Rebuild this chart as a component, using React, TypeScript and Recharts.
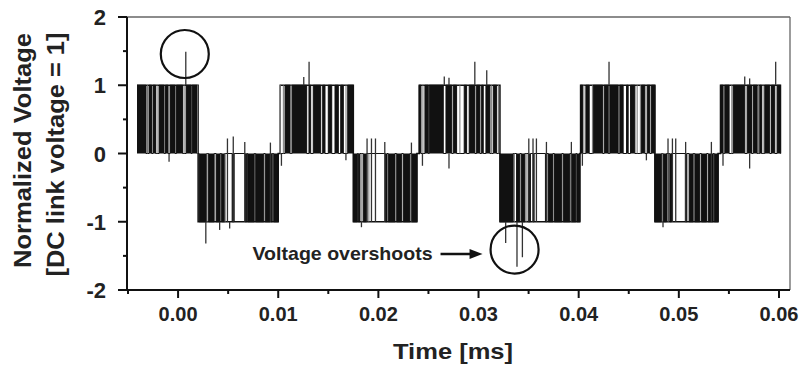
import React from "react";
import {
  ComposedChart,
  Area,
  Line,
  XAxis,
  YAxis,
  ReferenceLine,
  ReferenceDot,
} from "recharts";

// half-cycle blocks: [start, end, level]
const blocks: [number, number, number][] = [
  [-0.0041, 0.002, 1],
  [0.002, 0.01, -1],
  [0.0102, 0.0175, 1],
  [0.0175, 0.02385, -1],
  [0.02408, 0.03214, 1],
  [0.03214, 0.04012, -1],
  [0.04019, 0.04761, 1],
  [0.04761, 0.05392, -1],
  [0.05416, 0.06015, 1],
];

// dense switching regions (drawn black), [start, end]
const p1Bars = [
  [-0.0041, -0.0032], [-0.0029, -0.00265], [-0.0025, -0.00225], [-0.0019, -0.0014],
  [-0.00125, -0.001], [-0.0008, -0.0003], [-0.00015, 0.00045], [0.0008, 0.0013], [0.0014, 0.0019],
];
const n1Bars = [
  [0.0021, 0.00285], [0.00305, 0.0036], [0.0038, 0.0042], [0.00435, 0.00465], [0.0054, 0.0056],
  [0.0067, 0.00685], [0.00695, 0.0076], [0.00775, 0.00855], [0.0087, 0.0092], [0.0093, 0.0094], [0.00955, 0.01],
];
const p2Bars = [
  [0.01068, 0.01118], [0.01138, 0.01284], [0.01307, 0.01324], [0.0135, 0.01424], [0.01444, 0.01467],
  [0.015, 0.01534], [0.01567, 0.016], [0.01624, 0.0165], [0.01694, 0.0175],
];
const n2Bars = [
  [0.0175, 0.0179], [0.018, 0.01816], [0.01849, 0.01883], [0.0207, 0.02086], [0.02099, 0.02166],
  [0.02183, 0.02233], [0.02249, 0.02315], [0.02332, 0.02385],
];
const p3Bars = [
  [0.02408, 0.02425], [0.02465, 0.02498], [0.02508, 0.02648], [0.02675, 0.02732], [0.02748, 0.02781],
  [0.02857, 0.02881], [0.02907, 0.02964], [0.02981, 0.03014], [0.03031, 0.03047], [0.03074, 0.03114], [0.03147, 0.03181],
];
const n3Bars = [
  [0.03214, 0.03346], [0.0338, 0.03413], [0.03428, 0.03463], [0.03496, 0.03518], [0.03545, 0.03555],
  [0.03668, 0.03683], [0.03698, 0.03743], [0.03758, 0.03832], [0.03847, 0.03912], [0.03927, 0.03972], [0.03982, 0.04012],
];
const p4Bars = [
  [0.04019, 0.04039], [0.04072, 0.04105], [0.04145, 0.04239], [0.04255, 0.04295], [0.04311, 0.04394],
  [0.04411, 0.04444], [0.04478, 0.04494], [0.04518, 0.04561], [0.04628, 0.04661], [0.04684, 0.04711], [0.04728, 0.04761],
];
const n4Bars = [
  [0.04761, 0.04827], [0.04843, 0.04877], [0.0491, 0.04927], [0.05065, 0.0508], [0.05103, 0.05143],
  [0.0516, 0.0521], [0.05227, 0.05277], [0.05293, 0.05343], [0.05354, 0.05392],
];
const p5Bars = [
  [0.05416, 0.05442], [0.05459, 0.05502], [0.05542, 0.05659], [0.05682, 0.05726], [0.05742, 0.05782],
  [0.05808, 0.05825], [0.05858, 0.05908], [0.05925, 0.05958], [0.05981, 0.06015],
];

// single narrow pulses (thin gray lines)
const posThin = [
  -0.00305, -0.0021, 0.0006, 0.00195, 0.01023, 0.01051, 0.01128, 0.01677, 0.02445, 0.02814,
  0.03128, 0.03199, 0.04052, 0.04137, 0.04584, 0.04616, 0.05529, 0.05795, 0.05841,
];
const negThin = [0.0029, 0.0047, 0.01835, 0.01905, 0.03358, 0.03475, 0.04835, 0.04895];

// ringing spikes: [time, from, to]
const spikes: [number, number, number][] = [
  [0.00077, 1, 1.49], [0.01308, 1, 1.345], [0.01255, 1, 1.12], [0.02963, 1, 1.345],
  [0.03082, 1, 1.22], [0.02658, 1, 1.13], [0.02705, 1, 1.11], [0.04303, 1, 1.345],
  [0.05967, 1, 1.345], [0.05658, 1, 1.13], [0.05707, 1, 1.1],
  [-0.0009, 0, -0.12], [0.01032, 0, -0.18], [0.01676, 0, -0.1], [0.0244, 0, -0.18],
  [0.02705, 0, -0.22], [0.04037, 0, -0.18], [0.04676, 0, -0.1], [0.05441, 0, -0.18], [0.05707, 0, -0.22],
  [0.00493, -1, 0.22], [0.00551, -1, 0.25], [0.00666, -1, 0.17], [0.00922, -1, 0.16],
  [0.01887, -1, 0.22], [0.01931, -1, 0.22], [0.01971, -1, 0.22], [0.02064, -1, 0.17], [0.0233, -1, 0.16],
  [0.03502, -1, 0.22], [0.03544, -1, 0.22], [0.03578, -1, 0.22], [0.03678, -1, 0.17], [0.03927, -1, 0.17],
  [0.04892, -1, 0.22], [0.04936, -1, 0.22], [0.04969, -1, 0.22], [0.05068, -1, 0.17], [0.05325, -1, 0.17],
  [0.00277, -1, -1.32], [0.00415, -1, -1.12], [0.00515, -1, -1.1], [0.01831, -1, -1.08],
  [0.03271, -1, -1.31], [0.03384, -1, -1.66], [0.03438, -1, -1.52], [0.04842, -1, -1.08],
];

// annotation circles and arrow tip
const circles = [
  { t: 0.00067, v: 1.458 },
  { t: 0.0336, v: -1.407 },
];
const arrowTip = { t: 0.0304, v: -1.472 };
const arrowText = "Voltage overshoots";

const xMajorTicks = [0, 0.01, 0.02, 0.03, 0.04, 0.05, 0.06];
const xMinorTicks = [-0.005, 0.005, 0.015, 0.025, 0.035, 0.045, 0.055];
const yMajorTicks = [-2, -1, 0, 1, 2];
const yMinorTicks = [-1.5, -0.5, 0.5, 1.5];

const FONT = "'Liberation Sans', Arial, Helvetica, sans-serif";
const INK = "#111";

function toSteps(list: number[][], level: number) {
  return list.map((b) => [b[0], b[1], level]);
}

const allBars = [
  ...toSteps(p1Bars, 1), ...toSteps(n1Bars, -1), ...toSteps(p2Bars, 1),
  ...toSteps(n2Bars, -1), ...toSteps(p3Bars, 1), ...toSteps(n3Bars, -1),
  ...toSteps(p4Bars, 1), ...toSteps(n4Bars, -1), ...toSteps(p5Bars, 1),
].sort((a, b) => a[0] - b[0]);

const pwmData: { t: number; v: number }[] = [];
allBars.forEach(([a, b, lvl]) => {
  pwmData.push({ t: a, v: lvl });
  pwmData.push({ t: b, v: 0 });
});

const envelopeData: { t: number; v: number }[] = [];
blocks.forEach(([a, b, lvl]) => {
  envelopeData.push({ t: a, v: lvl });
  envelopeData.push({ t: b, v: 0 });
});

const isMajor = (v: number, step: number) =>
  Math.abs(Math.round(v / step) * step - v) < 1e-9;

function XTick(props: any) {
  const { x, y, payload } = props;
  const major = isMajor(payload.value, 0.01);
  return (
    <g>
      <line x1={x} y1={y} x2={x} y2={y + (major ? 8 : 4)} stroke={INK} strokeWidth={2} />
      {major && (
        <text x={x} y={y + 31} textAnchor="middle" fontFamily={FONT} fontWeight="bold" fontSize={20} fill="#222">
          {payload.value.toFixed(2)}
        </text>
      )}
    </g>
  );
}

function YTick(props: any) {
  const { x, y, payload } = props;
  const major = Number.isInteger(payload.value);
  return (
    <g>
      <line x1={x - (major ? 9 : 4)} y1={y} x2={x} y2={y} stroke={INK} strokeWidth={2} />
      {major && (
        <text x={x - 21} y={y + 8} textAnchor="end" fontFamily={FONT} fontWeight="bold" fontSize={22} fill="#222">
          {payload.value}
        </text>
      )}
    </g>
  );
}

function YTitle(props: any) {
  const vb = props.viewBox || { x: 0, y: 17, width: 127, height: 273 };
  const cy = vb.y + vb.height / 2;
  const x1 = vb.x + 31;
  const x2 = vb.x + 64;
  return (
    <g fontFamily={FONT} fontWeight="bold" fontSize={23} fill="#222">
      <text x={x1} y={cy - 3} transform={`rotate(-90 ${x1} ${cy - 3})`} textAnchor="middle" textLength={235} lengthAdjust="spacingAndGlyphs">
        Normalized Voltage
      </text>
      <text x={x2} y={cy + 1} transform={`rotate(-90 ${x2} ${cy + 1})`} textAnchor="middle" textLength={244} lengthAdjust="spacingAndGlyphs">
        [DC link voltage = 1]
      </text>
    </g>
  );
}

function XTitle(props: any) {
  const vb = props.viewBox || { x: 127, y: 290, width: 663, height: 79 };
  return (
    <text x={vb.x + 326} y={vb.y + 69} textAnchor="middle" fontFamily={FONT} fontWeight="bold" fontSize={22} fill="#222" textLength={120} lengthAdjust="spacingAndGlyphs">
      Time [ms]
    </text>
  );
}

function ArrowNote(props: any) {
  const { cx, cy } = props;
  return (
    <g>
      <line x1={cx - 42} y1={cy} x2={cx - 10} y2={cy} stroke={INK} strokeWidth={2.5} />
      <polygon points={`${cx},${cy} ${cx - 13},${cy - 5} ${cx - 13},${cy + 5}`} fill={INK} />
      <text x={cx - 50} y={cy + 6} textAnchor="end" fontFamily={FONT} fontWeight="bold" fontSize={19} fill="#222" textLength={180} lengthAdjust="spacingAndGlyphs">
        {arrowText}
      </text>
    </g>
  );
}

export default function App() {
  return (
    <div style={{ position: "absolute", left: 0, top: 0, width: 801, height: 369, background: "#fff" }}>
      <ComposedChart width={801} height={369} margin={{ top: 17, right: 11, bottom: 0, left: 0 }}>
        <XAxis
          dataKey="t"
          type="number"
          domain={[-0.0051, 0.0611]}
          allowDataOverflow
          ticks={[...xMinorTicks, ...xMajorTicks].sort((a, b) => a - b)}
          interval={0}
          tick={<XTick />}
          tickLine={false}
          tickSize={0}
          tickMargin={0}
          axisLine={{ stroke: INK, strokeWidth: 2 }}
          height={79}
          label={{ content: (p: any) => <XTitle viewBox={p.viewBox} /> }}
        />
        <YAxis
          type="number"
          domain={[-2, 2]}
          allowDataOverflow
          ticks={[...yMinorTicks, ...yMajorTicks].sort((a, b) => a - b)}
          interval={0}
          tick={<YTick />}
          tickLine={false}
          tickSize={0}
          tickMargin={0}
          axisLine={{ stroke: INK, strokeWidth: 2 }}
          width={127}
          label={{ content: (p: any) => <YTitle viewBox={p.viewBox} /> }}
        />
        <ReferenceLine y={2} stroke="#666" strokeWidth={1.3} />
        <ReferenceLine x={0.0611} stroke="#666" strokeWidth={1.3} />
        <Area
          data={pwmData}
          dataKey="v"
          type="stepAfter"
          baseValue={0}
          stroke={INK}
          strokeWidth={1}
          fill={INK}
          fillOpacity={1}
          dot={false}
          activeDot={false}
          isAnimationActive={false}
        />
        <Line
          data={envelopeData}
          dataKey="v"
          type="stepAfter"
          stroke={INK}
          strokeWidth={1.5}
          dot={false}
          activeDot={false}
          isAnimationActive={false}
        />
        {posThin.map((t, i) => (
          <ReferenceLine key={`pt${i}`} segment={[{ x: t, y: 0 }, { x: t, y: 1 }]} stroke="#777" strokeWidth={1} />
        ))}
        {negThin.map((t, i) => (
          <ReferenceLine key={`nt${i}`} segment={[{ x: t, y: 0 }, { x: t, y: -1 }]} stroke="#777" strokeWidth={1} />
        ))}
        {spikes.map(([t, a, b], i) => (
          <ReferenceLine key={`s${i}`} segment={[{ x: t, y: a }, { x: t, y: b }]} stroke="#333" strokeWidth={1.3} />
        ))}
        {circles.map((c, i) => (
          <ReferenceDot key={`c${i}`} x={c.t} y={c.v} r={24} fill="none" stroke={INK} strokeWidth={2.2} />
        ))}
        <ReferenceDot x={arrowTip.t} y={arrowTip.v} r={1} shape={(p: any) => <ArrowNote {...p} />} />
      </ComposedChart>
    </div>
  );
}
